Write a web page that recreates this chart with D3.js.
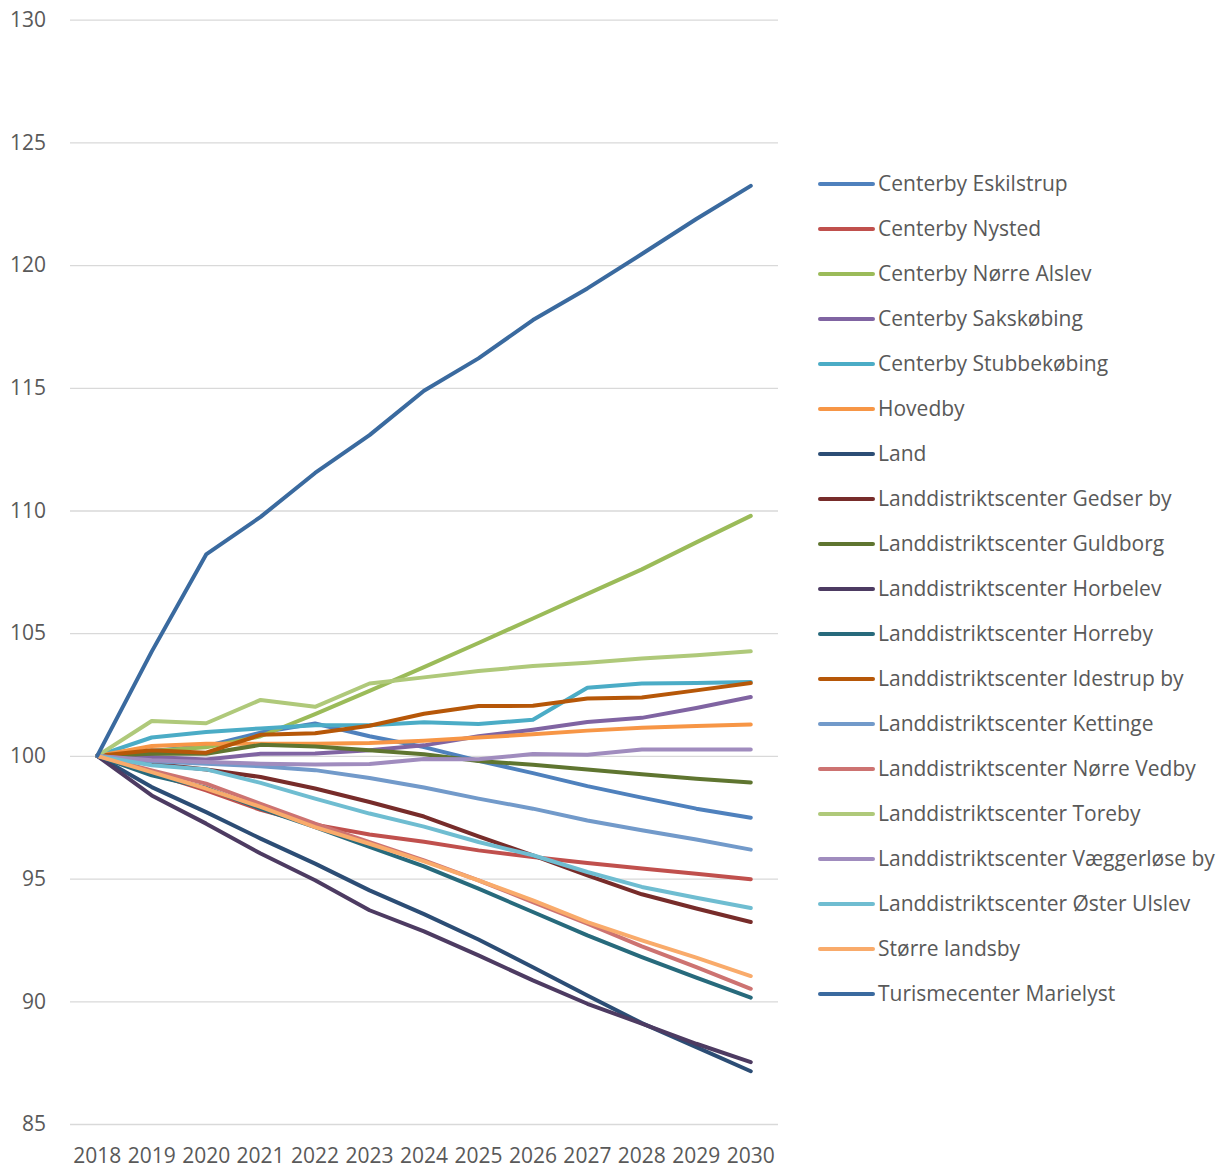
<!DOCTYPE html>
<html>
<head>
<meta charset="utf-8">
<script src="https://cdn.jsdelivr.net/npm/d3@7"></script>
<style>
  html, body { margin: 0; padding: 0; background: #fff; }
  svg text { font-family: "Open Sans", "Noto Sans", sans-serif; fill: #595959; }
</style>
</head>
<body>
<svg id="chart" width="1227" height="1170"></svg>
<script>
const years = ["2018","2019","2020","2021","2022","2023","2024","2025","2026","2027","2028","2029","2030"];
const yTicks = [85, 90, 95, 100, 105, 110, 115, 120, 125, 130];

const seriesNames = [
  "Centerby Eskilstrup",
  "Centerby Nysted",
  "Centerby Nørre Alslev",
  "Centerby Sakskøbing",
  "Centerby Stubbekøbing",
  "Hovedby",
  "Land",
  "Landdistriktscenter Gedser by",
  "Landdistriktscenter Guldborg",
  "Landdistriktscenter Horbelev",
  "Landdistriktscenter Horreby",
  "Landdistriktscenter Idestrup by",
  "Landdistriktscenter Kettinge",
  "Landdistriktscenter Nørre Vedby",
  "Landdistriktscenter Toreby",
  "Landdistriktscenter Væggerløse by",
  "Landdistriktscenter Øster Ulslev",
  "Større landsby",
  "Turismecenter Marielyst"
];

const seriesColors = [
  "#4F81BD", "#C0504D", "#9BBB59", "#8064A2", "#4BACC6", "#F79646",
  "#2C4D75", "#772C2A", "#5F7530", "#4D3B62", "#276A7C", "#B65708",
  "#729ACA", "#CD7371", "#AFC97A", "#A08CBE", "#6FBDD1", "#F9AB6B", "#3A6A9F"
];

const eskilstrup   = [100, 100.2, 100.4, 100.95, 101.32, 100.8, 100.36, 99.8, 99.3, 98.77, 98.3, 97.85, 97.48];
const nysted       = [100, 99.3, 98.6, 97.8, 97.2, 96.8, 96.5, 96.15, 95.88, 95.64, 95.41, 95.2, 94.97];
const norreAlslev  = [100, 100.2, 100.35, 100.8, 101.7, 102.65, 103.62, 104.6, 105.6, 106.6, 107.6, 108.7, 109.78];
const sakskobing   = [100, 99.96, 99.85, 100.09, 100.1, 100.23, 100.43, 100.8, 101.07, 101.38, 101.55, 101.95, 102.4];
const stubbekobing = [100, 100.75, 100.97, 101.12, 101.25, 101.25, 101.37, 101.3, 101.47, 102.78, 102.95, 102.97, 103.01];
const hovedby      = [100, 100.4, 100.5, 100.5, 100.5, 100.53, 100.62, 100.75, 100.88, 101.03, 101.15, 101.22, 101.28];
const land         = [100, 98.73, 97.71, 96.63, 95.61, 94.52, 93.55, 92.52, 91.39, 90.24, 89.11, 88.13, 87.15];
const gedser       = [100, 99.69, 99.45, 99.14, 98.67, 98.12, 97.53, 96.72, 95.95, 95.13, 94.36, 93.78, 93.23];
const guldborg     = [100, 100.09, 100.09, 100.45, 100.38, 100.23, 100.07, 99.79, 99.64, 99.45, 99.25, 99.07, 98.92];
const horbelev     = [100, 98.39, 97.24, 96.02, 94.93, 93.71, 92.85, 91.87, 90.85, 89.9, 89.09, 88.27, 87.52];
const horreby      = [100, 99.21, 98.7, 97.85, 97.1, 96.29, 95.5, 94.59, 93.64, 92.69, 91.8, 90.96, 90.15];
const idestrup     = [100, 100.23, 100.13, 100.86, 100.92, 101.23, 101.72, 102.03, 102.04, 102.34, 102.38, 102.67, 102.97];
const kettinge     = [100, 99.78, 99.68, 99.58, 99.42, 99.1, 98.71, 98.26, 97.85, 97.37, 96.97, 96.59, 96.18];
const norreVedby   = [100, 99.41, 98.87, 98.05, 97.24, 96.49, 95.74, 94.93, 94.04, 93.16, 92.24, 91.39, 90.51];
const toreby       = [100, 101.42, 101.33, 102.28, 102.0, 102.95, 103.2, 103.46, 103.66, 103.8, 103.97, 104.1, 104.26];
const vaeggerlose  = [100, 99.82, 99.75, 99.68, 99.65, 99.67, 99.87, 99.86, 100.08, 100.05, 100.26, 100.26, 100.26];
const osterUlslev  = [100, 99.62, 99.45, 98.9, 98.26, 97.65, 97.12, 96.49, 95.95, 95.27, 94.66, 94.22, 93.8];
const storreLandsby= [100, 99.34, 98.67, 97.92, 97.1, 96.42, 95.7, 94.93, 94.11, 93.23, 92.48, 91.78, 91.03];
const marielyst    = [100, 104.25, 108.21, 109.74, 111.53, 113.07, 114.88, 116.2, 117.76, 119.05, 120.45, 121.88, 123.23];

const seriesValues = [
  eskilstrup, nysted, norreAlslev, sakskobing, stubbekobing, hovedby, land,
  gedser, guldborg, horbelev, horreby, idestrup, kettinge, norreVedby,
  toreby, vaeggerlose, osterUlslev, storreLandsby, marielyst
];

const series = seriesNames.map((name, i) => ({ name, color: seriesColors[i], values: seriesValues[i] }));

const svg = d3.select("#chart");
const plot = { left: 70, right: 778, top: 19.7, bottom: 1124 };

const x = d3.scaleBand().domain(years).range([plot.left, plot.right]).paddingInner(0).paddingOuter(0);
const xc = d => x(d) + x.bandwidth() / 2;
const y = d3.scaleLinear().domain([85, 130]).range([plot.bottom, plot.top]);

// gridlines
const yAxis = d3.axisLeft(y).tickValues(yTicks).tickSize(-(plot.right - plot.left)).tickPadding(24).tickFormat(d3.format("d"));
const gy = svg.append("g").attr("transform", `translate(${plot.left},0)`).call(yAxis);
gy.select(".domain").remove();
gy.selectAll(".tick line").attr("stroke", "#d9d9d9").attr("stroke-width", 1.3);
gy.selectAll(".tick text").attr("font-size", 21).attr("fill", "#595959").attr("x", -24);

const xAxis = d3.axisBottom(x).tickSize(0).tickPadding(24);
const gx = svg.append("g").attr("transform", `translate(0,${plot.bottom})`).call(xAxis);
gx.select(".domain").remove();
gx.selectAll(".tick text").attr("font-size", 21).attr("fill", "#595959");

const line = d3.line().x((d, i) => xc(years[i])).y(d => y(d));

svg.append("g").selectAll("path").data(series).join("path")
  .attr("d", d => line(d.values))
  .attr("fill", "none")
  .attr("stroke", d => d.color)
  .attr("stroke-width", 4)
  .attr("stroke-linejoin", "round")
  .attr("stroke-linecap", "round");

// legend
const legend = svg.append("g");
const legY = d3.scalePoint().domain(seriesNames).range([184, 994]);
const items = legend.selectAll("g").data(series).join("g")
  .attr("transform", d => `translate(820,${legY(d.name)})`);
items.append("line").attr("x1", 0).attr("x2", 53).attr("y1", 0).attr("y2", 0)
  .attr("stroke", d => d.color).attr("stroke-width", 4).attr("stroke-linecap", "round");
items.append("text").attr("x", 58).attr("y", 0).attr("dy", "0.35em")
  .attr("font-size", 21).attr("fill", "#595959").text(d => d.name);
</script>
</body>
</html>
